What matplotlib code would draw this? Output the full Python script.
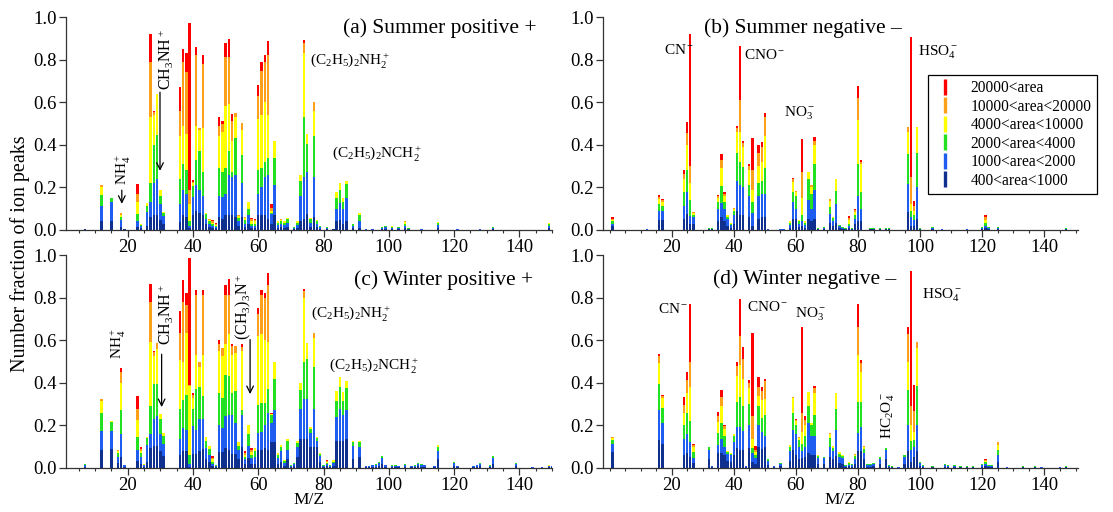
import numpy as np
import matplotlib
matplotlib.use("Agg")
import matplotlib.pyplot as plt
from matplotlib.ticker import MultipleLocator, FormatStrFormatter
from matplotlib.lines import Line2D

plt.rcParams['font.family'] = ['Liberation Serif', 'DejaVu Serif']
plt.rcParams['mathtext.fontset'] = 'custom'
plt.rcParams['mathtext.rm'] = 'Liberation Serif'
plt.rcParams['mathtext.it'] = 'Liberation Serif:italic'
plt.rcParams['mathtext.bf'] = 'Liberation Serif:bold'

# area classes, bottom to top
class_labels = ['400<area<1000', '1000<area<2000', '2000<area<4000',
                '4000<area<10000', '10000<area<20000', '20000<area']
class_colors = ['#10308f', '#1f5cf0', '#22e022', '#ffff00', '#ffa01a', '#ff0000']

# ---- (a) Summer positive: m/z and cumulative tops of the class stack ----
a_mz = [7, 12, 15, 18, 19, 23, 24, 26, 27, 28, 29, 30, 31, 36, 37, 38, 39, 40, 41, 42,
        43, 44, 45, 46, 47, 48, 49, 50, 51, 52, 53, 54, 55, 56, 57, 58, 59, 60, 61, 62,
        63, 64, 65, 66, 67, 68, 69, 71, 72, 73, 74, 75, 76, 77, 78, 79, 81, 83, 84, 85,
        86, 87, 89, 91, 93, 95, 98, 99, 101, 103, 105, 106, 110, 115, 121, 128, 132, 149]
a_cum = [
    (0.003, 0.004, 0.005, 0.005, 0.006), (0.044, 0.115, 0.166, 0.20, 0.21),
    (0.044, 0.133, 0.15), (0.016, 0.047, 0.063, 0.072, 0.078), (0.004, 0.006),
    (0.013, 0.044, 0.075, 0.13, 0.17, 0.217), (0.01, 0.02, 0.025, 0.028, 0.03),
    (0.02, 0.084, 0.115, 0.126), (0.06, 0.13, 0.22, 0.53, 0.79, 0.92),
    (0.07, 0.22, 0.40, 0.54, 0.555, 0.56), (0.07, 0.24, 0.445, 0.64),
    (0.045, 0.12, 0.16, 0.19), (0.03, 0.068, 0.08, 0.084),
    (0.037, 0.12, 0.24, 0.44, 0.56, 0.67), (0.07, 0.19, 0.31, 0.49, 0.79, 0.85),
    (0.06, 0.17, 0.28, 0.45, 0.74, 0.83), (0.01, 0.02, 0.04, 0.12, 0.19, 0.97),
    (0.07, 0.155, 0.205, 0.22, 0.225, 0.233), (0.09, 0.21, 0.33, 0.49, 0.82, 0.86),
    (0.08, 0.19, 0.37, 0.47, 0.48), (0.07, 0.16, 0.27, 0.48, 0.78, 0.82),
    (0.03, 0.05, 0.075, 0.08), (0.015, 0.03, 0.04, 0.047, 0.05),
    (0.01, 0.02, 0.028, 0.035, 0.04, 0.045), (0.008, 0.015, 0.02, 0.025, 0.03, 0.035),
    (0.06, 0.16, 0.29, 0.44, 0.49, 0.53), (0.05, 0.155, 0.27, 0.46, 0.50, 0.51),
    (0.07, 0.17, 0.29, 0.58, 0.81, 0.88), (0.07, 0.26, 0.37, 0.59, 0.81, 0.895),
    (0.07, 0.25, 0.27, 0.42, 0.51, 0.545), (0.06, 0.26, 0.43, 0.53, 0.55),
    (0.02, 0.04, 0.055, 0.065, 0.07), (0.06, 0.22, 0.35, 0.47, 0.50),
    (0.015, 0.03, 0.045, 0.055, 0.06), (0.03, 0.07, 0.10, 0.13),
    (0.01, 0.02, 0.03, 0.04, 0.05, 0.055), (0.01, 0.02, 0.03, 0.04, 0.045, 0.05),
    (0.07, 0.17, 0.28, 0.52, 0.63, 0.68), (0.07, 0.20, 0.29, 0.54, 0.745, 0.79),
    (0.07, 0.25, 0.32, 0.60, 0.79, 0.82), (0.05, 0.26, 0.34, 0.54, 0.82, 0.887),
    (0.03, 0.075, 0.08, 0.09, 0.105, 0.12), (0.07, 0.21, 0.34, 0.42),
    (0.01, 0.025, 0.035, 0.04, 0.044), (0.015, 0.03, 0.04, 0.048, 0.05),
    (0.01, 0.025, 0.035, 0.04), (0.015, 0.035, 0.05, 0.057), (0.004, 0.008, 0.012),
    (0.01, 0.025, 0.035, 0.04), (0.04, 0.16, 0.23, 0.256),
    (0.05, 0.25, 0.53, 0.83, 0.88, 0.89), (0.075, 0.27, 0.405, 0.45),
    (0.015, 0.035, 0.05, 0.057), (0.06, 0.25, 0.44, 0.56, 0.60),
    (0.015, 0.03, 0.042, 0.047), (0.006, 0.012, 0.018, 0.02), (0.004, 0.008, 0.012),
    (0.003, 0.005), (0.04, 0.10, 0.15, 0.177), (0.045, 0.125, 0.19, 0.22),
    (0.03, 0.10, 0.13, 0.15), (0.04, 0.15, 0.215, 0.232), (0.008, 0.02, 0.028, 0.03),
    (0.01, 0.04, 0.07, 0.078), (0.002, 0.004, 0.005), (0.002, 0.004, 0.005),
    (0.004, 0.01, 0.015), (0.005, 0.012, 0.018, 0.02), (0.004, 0.01, 0.015, 0.018),
    (0.003, 0.008, 0.012), (0.01, 0.02, 0.03, 0.038, 0.044), (0.003, 0.007, 0.01),
    (0.002, 0.004, 0.005), (0.01, 0.025, 0.033, 0.036), (0.002, 0.004, 0.005),
    (0.002, 0.004, 0.005), (0.004, 0.01, 0.015), (0.008, 0.02, 0.03, 0.035)]

# ---- (b) Summer negative ----
b_mz = [1, 12, 16, 17, 24, 25, 26, 27, 32, 33, 35, 36, 37, 38, 39, 40, 41, 42, 43, 45,
        46, 48, 49, 50, 51, 55, 56, 58, 59, 60, 61, 62, 63, 64, 65, 66, 67, 69, 71, 72,
        73, 74, 75, 76, 77, 78, 79, 80, 81, 84, 85, 87, 89, 90, 96, 97, 98, 99, 100, 104,
        107, 115, 120, 121, 122, 125, 147]
b_cum = [
    (0.02, 0.03, 0.04, 0.045, 0.05, 0.06), (0.002, 0.003),
    (0.045, 0.09, 0.12, 0.145, 0.155, 0.166), (0.045, 0.09, 0.115, 0.13, 0.14, 0.146),
    (0.05, 0.115, 0.18, 0.24, 0.265, 0.28), (0.075, 0.177, 0.28, 0.40, 0.455, 0.505),
    (0.03, 0.065, 0.14, 0.22, 0.30, 0.92), (0.03, 0.06, 0.07, 0.08, 0.085),
    (0.003, 0.006, 0.008), (0.003, 0.006, 0.01), (0.04, 0.1, 0.13, 0.15, 0.16, 0.166),
    (0.06, 0.125, 0.205, 0.29, 0.33, 0.355), (0.04, 0.1, 0.13, 0.16, 0.17, 0.177),
    (0.02, 0.05, 0.06, 0.07, 0.072), (0.01, 0.025, 0.03, 0.035),
    (0.03, 0.07, 0.09, 0.1, 0.105), (0.09, 0.23, 0.36, 0.46, 0.48, 0.49),
    (0.07, 0.21, 0.32, 0.46, 0.61, 0.865), (0.07, 0.2, 0.295, 0.39, 0.41, 0.42),
    (0.06, 0.16, 0.21, 0.28, 0.30, 0.31), (0.02, 0.08, 0.13, 0.19, 0.28, 0.43),
    (0.05, 0.16, 0.22, 0.30, 0.36, 0.40), (0.06, 0.17, 0.23, 0.32, 0.39, 0.415),
    (0.06, 0.17, 0.29, 0.44, 0.53, 0.55), (0.002, 0.004, 0.005), (0.002, 0.004),
    (0.002, 0.004), (0.01, 0.025, 0.035, 0.04), (0.05, 0.13, 0.18, 0.225, 0.24, 0.245),
    (0.05, 0.1, 0.16, 0.18, 0.185), (0.015, 0.03, 0.04, 0.045),
    (0.02, 0.04, 0.07, 0.15, 0.27, 0.425), (0.01, 0.025, 0.035, 0.04),
    (0.05, 0.14, 0.24, 0.27), (0.04, 0.1, 0.17, 0.20, 0.21),
    (0.05, 0.19, 0.31, 0.40, 0.42, 0.435), (0.003, 0.007, 0.01), (0.004, 0.009, 0.012),
    (0.035, 0.075, 0.11, 0.135, 0.146), (0.02, 0.04, 0.055, 0.063),
    (0.035, 0.12, 0.185, 0.24), (0.008, 0.018, 0.025), (0.005, 0.011, 0.015),
    (0.003, 0.007, 0.01), (0.01, 0.02, 0.03, 0.045, 0.055, 0.068), (0.003, 0.007, 0.01),
    (0.03, 0.05, 0.07, 0.085, 0.095, 0.1), (0.044, 0.16, 0.31, 0.515, 0.62, 0.675),
    (0.04, 0.1, 0.18, 0.31, 0.32, 0.33), (0.003, 0.007, 0.01), (0.003, 0.007, 0.01),
    (0.003, 0.007, 0.01), (0.003, 0.007, 0.01), (0.003, 0.006, 0.008),
    (0.083, 0.217, 0.357, 0.46, 0.485), (0.02, 0.06, 0.09, 0.12, 0.25, 0.905),
    (0.02, 0.045, 0.07, 0.09, 0.115, 0.135), (0.05, 0.2, 0.36, 0.485),
    (0.003, 0.007, 0.01), (0.005, 0.011, 0.015), (0.002, 0.004, 0.005), (0.002, 0.004),
    (0.004, 0.009, 0.012), (0.01, 0.02, 0.035, 0.045, 0.06, 0.072),
    (0.004, 0.009, 0.012), (0.005, 0.011, 0.015), (0.003, 0.006, 0.008)]

# ---- (c) Winter positive ----
c_mz = [7, 12, 15, 17, 18, 19, 23, 24, 25, 26, 27, 28, 29, 30, 31, 36, 37, 38, 39, 40,
        41, 42, 43, 44, 45, 46, 47, 48, 49, 50, 51, 52, 53, 54, 55, 56, 57, 58, 59, 60,
        61, 62, 63, 64, 65, 66, 67, 68, 69, 70, 71, 72, 73, 74, 75, 76, 77, 78, 79, 80,
        81, 82, 83, 84, 85, 86, 87, 89, 91, 93, 94, 95, 96, 97, 98, 99, 101, 102, 103,
        105, 107, 108, 109, 110, 111, 114, 115, 120, 121, 126, 127, 128, 131, 132, 139,
        144, 147, 149, 150]
c_cum = [
    (0.005, 0.012, 0.017, 0.02), (0.085, 0.175, 0.26, 0.315, 0.325),
    (0.09, 0.175, 0.215, 0.223), (0.025, 0.05, 0.07, 0.08, 0.086),
    (0.05, 0.16, 0.27, 0.40, 0.45, 0.47), (0.005, 0.012, 0.016),
    (0.031, 0.086, 0.144, 0.226, 0.276, 0.337), (0.02, 0.05, 0.07, 0.08, 0.09, 0.097),
    (0.006, 0.012, 0.016, 0.018), (0.03, 0.11, 0.143, 0.147),
    (0.094, 0.16, 0.29, 0.59, 0.78, 0.863), (0.104, 0.228, 0.393, 0.526, 0.545, 0.55),
    (0.104, 0.245, 0.393, 0.559, 0.587), (0.08, 0.16, 0.23, 0.253),
    (0.055, 0.115, 0.15, 0.162), (0.063, 0.137, 0.278, 0.509, 0.633, 0.737),
    (0.08, 0.19, 0.32, 0.50, 0.78, 0.881), (0.08, 0.179, 0.344, 0.633, 0.765, 0.82),
    (0.005, 0.021, 0.063, 0.385, 0.39, 0.988), (0.065, 0.195, 0.278, 0.33, 0.342, 0.352),
    (0.065, 0.18, 0.37, 0.53, 0.81, 0.836), (0.08, 0.23, 0.38, 0.475, 0.496),
    (0.09, 0.23, 0.34, 0.53, 0.81, 0.836), (0.04, 0.095, 0.125, 0.145),
    (0.03, 0.063, 0.09, 0.104), (0.01, 0.02, 0.03, 0.04, 0.048, 0.055),
    (0.005, 0.01, 0.013, 0.015), (0.075, 0.2, 0.35, 0.55, 0.58, 0.60),
    (0.075, 0.19, 0.33, 0.525, 0.562), (0.095, 0.245, 0.435, 0.58, 0.81, 0.86),
    (0.085, 0.25, 0.43, 0.63, 0.81, 0.889), (0.065, 0.25, 0.35, 0.53, 0.575, 0.583),
    (0.065, 0.21, 0.36, 0.54, 0.575), (0.04, 0.085, 0.105, 0.12),
    (0.1, 0.25, 0.27, 0.55, 0.57, 0.58), (0.02, 0.04, 0.05, 0.06, 0.07, 0.08),
    (0.045, 0.105, 0.16, 0.203), (0.02, 0.045, 0.06, 0.075, 0.085, 0.095),
    (0.02, 0.05, 0.08, 0.095), (0.085, 0.165, 0.295, 0.62, 0.725, 0.749),
    (0.085, 0.17, 0.305, 0.63, 0.81, 0.835), (0.095, 0.2, 0.305, 0.60, 0.80, 0.823),
    (0.085, 0.26, 0.37, 0.59, 0.86, 0.914), (0.12, 0.21, 0.25, 0.252, 0.254, 0.256),
    (0.12, 0.27, 0.42, 0.5), (0.02, 0.045, 0.06, 0.07), (0.03, 0.08, 0.1, 0.11),
    (0.01, 0.025, 0.032, 0.036), (0.04, 0.085, 0.125, 0.135), (0.004, 0.009, 0.012),
    (0.008, 0.018, 0.025), (0.05, 0.1, 0.117, 0.127), (0.135, 0.275, 0.365, 0.397),
    (0.135, 0.325, 0.5, 0.80, 0.83, 0.84), (0.135, 0.325, 0.51, 0.587),
    (0.1, 0.165, 0.185, 0.193), (0.1, 0.275, 0.475, 0.61, 0.635),
    (0.1, 0.125, 0.14, 0.144), (0.03, 0.055, 0.065, 0.07), (0.005, 0.01, 0.015),
    (0.01, 0.02, 0.025, 0.03, 0.033, 0.036), (0.005, 0.01, 0.015),
    (0.01, 0.025, 0.03, 0.036), (0.125, 0.24, 0.315, 0.362), (0.125, 0.275, 0.38, 0.425),
    (0.125, 0.25, 0.315, 0.355), (0.135, 0.27, 0.375, 0.408), (0.04, 0.105, 0.12, 0.127),
    (0.05, 0.1, 0.12, 0.127), (0.004, 0.008, 0.01), (0.004, 0.008, 0.01),
    (0.005, 0.012, 0.015), (0.007, 0.015, 0.02), (0.01, 0.022, 0.03),
    (0.02, 0.045, 0.055, 0.058), (0.005, 0.012, 0.015), (0.004, 0.009, 0.012),
    (0.004, 0.009, 0.012), (0.004, 0.008, 0.01), (0.007, 0.015, 0.02),
    (0.004, 0.008, 0.01), (0.004, 0.009, 0.012), (0.008, 0.02, 0.025),
    (0.006, 0.014, 0.018), (0.005, 0.012, 0.015), (0.004, 0.008, 0.01),
    (0.04, 0.08, 0.1, 0.11), (0.01, 0.022, 0.028, 0.03), (0.004, 0.008, 0.01),
    (0.004, 0.008, 0.01), (0.005, 0.012, 0.015), (0.008, 0.02, 0.025),
    (0.004, 0.009, 0.012), (0.02, 0.045, 0.055, 0.058), (0.01, 0.02, 0.025),
    (0.002, 0.004, 0.005), (0.002, 0.004, 0.006), (0.004, 0.008, 0.01, 0.012),
    (0.004, 0.008, 0.01)]

# ---- (d) Winter negative ----
d_mz = [1, 16, 17, 24, 25, 26, 27, 32, 33, 35, 36, 37, 38, 39, 40, 41, 42, 43, 44, 45,
        46, 47, 48, 49, 50, 51, 53, 55, 58, 59, 60, 61, 62, 63, 64, 65, 66, 67, 69, 71,
        72, 73, 74, 75, 76, 77, 78, 79, 80, 81, 82, 83, 84, 85, 87, 89, 90, 91, 93, 95,
        96, 97, 98, 99, 100, 101, 104, 108, 109, 111, 113, 115, 117, 120, 121, 122, 123,
        125, 128, 133, 137, 139, 145, 147]
d_cum = [
    (0.075, 0.115, 0.13, 0.14, 0.145), (0.13, 0.27, 0.395, 0.495, 0.525, 0.535),
    (0.115, 0.21, 0.28, 0.33, 0.34, 0.345), (0.061, 0.136, 0.2, 0.26, 0.296, 0.334),
    (0.07, 0.16, 0.26, 0.35, 0.413, 0.453), (0.05, 0.12, 0.22, 0.38, 0.50, 0.772),
    (0.025, 0.045, 0.075, 0.1, 0.11, 0.115), (0.04, 0.085, 0.097, 0.1),
    (0.004, 0.008, 0.01), (0.07, 0.11, 0.164, 0.218, 0.243, 0.263),
    (0.07, 0.136, 0.21, 0.293, 0.334, 0.364), (0.06, 0.1, 0.15, 0.185, 0.195, 0.2),
    (0.035, 0.065, 0.075, 0.078), (0.03, 0.06, 0.068, 0.07), (0.06, 0.12, 0.15, 0.16),
    (0.094, 0.193, 0.309, 0.433, 0.478, 0.496), (0.086, 0.193, 0.334, 0.483, 0.62, 0.792),
    (0.086, 0.174, 0.293, 0.417, 0.511, 0.57), (0.004, 0.008, 0.01),
    (0.094, 0.2, 0.3, 0.375, 0.4, 0.412), (0.03, 0.07, 0.094, 0.136, 0.243, 0.635),
    (0.02, 0.045, 0.06, 0.075, 0.086, 0.102), (0.1, 0.2, 0.29, 0.34, 0.378, 0.425),
    (0.09, 0.17, 0.235, 0.317, 0.36, 0.38), (0.1, 0.152, 0.25, 0.326, 0.408, 0.42),
    (0.015, 0.035, 0.04), (0.004, 0.008, 0.01), (0.01, 0.02, 0.025),
    (0.035, 0.08, 0.1, 0.11), (0.085, 0.177, 0.26, 0.33, 0.334),
    (0.06, 0.16, 0.2, 0.22, 0.225, 0.23), (0.04, 0.1, 0.13, 0.14, 0.144),
    (0.045, 0.08, 0.115, 0.17, 0.26, 0.66), (0.05, 0.1, 0.15, 0.2, 0.225, 0.243),
    (0.07, 0.21, 0.29, 0.355), (0.06, 0.15, 0.2, 0.21),
    (0.06, 0.152, 0.251, 0.35, 0.375, 0.387), (0.02, 0.045, 0.055, 0.06),
    (0.02, 0.045, 0.053), (0.05, 0.1, 0.14, 0.16, 0.165), (0.04, 0.08, 0.095, 0.102),
    (0.055, 0.177, 0.276, 0.35), (0.025, 0.05, 0.065, 0.074), (0.02, 0.045, 0.055, 0.06),
    (0.005, 0.01, 0.015), (0.008, 0.016, 0.022, 0.026, 0.03), (0.006, 0.014, 0.02),
    (0.02, 0.04, 0.055, 0.062, 0.066), (0.081, 0.164, 0.309, 0.532, 0.66, 0.769),
    (0.078, 0.193, 0.31, 0.45, 0.494, 0.507), (0.04, 0.07, 0.09, 0.1, 0.102),
    (0.006, 0.014, 0.02), (0.006, 0.014, 0.02), (0.008, 0.018, 0.025),
    (0.02, 0.04, 0.05), (0.04, 0.085, 0.094), (0.005, 0.011, 0.015),
    (0.003, 0.007, 0.01), (0.002, 0.004, 0.005), (0.02, 0.05, 0.06),
    (0.078, 0.202, 0.367, 0.5, 0.631, 0.664), (0.03, 0.086, 0.127, 0.2, 0.293, 0.924),
    (0.05, 0.1, 0.13, 0.17, 0.268, 0.388), (0.078, 0.202, 0.383, 0.565, 0.593),
    (0.01, 0.022, 0.03), (0.005, 0.011, 0.015), (0.003, 0.007, 0.01),
    (0.006, 0.014, 0.02), (0.005, 0.011, 0.015), (0.004, 0.009, 0.012),
    (0.003, 0.006, 0.008), (0.003, 0.007, 0.01), (0.003, 0.006, 0.008),
    (0.006, 0.014, 0.02), (0.01, 0.02, 0.028, 0.033, 0.037, 0.04),
    (0.005, 0.011, 0.015), (0.005, 0.011, 0.015), (0.03, 0.06, 0.085, 0.11, 0.12, 0.124),
    (0.002, 0.004, 0.005), (0.003, 0.006, 0.008), (0.003, 0.007, 0.01),
    (0.002, 0.004, 0.005), (0.002, 0.004, 0.005), (0.003, 0.006, 0.008)]

panel_titles = ['(a) Summer positive +', '(b) Summer negative \u2013',
                '(c) Winter positive +', '(d) Winter negative \u2013']

W, H = 1113, 512
fig = plt.figure(figsize=(W / 100, H / 100), dpi=100)


def px_axes(x0, x1, ytop, ybot):
    return fig.add_axes([x0 / W, 1 - ybot / H, (x1 - x0) / W, (ybot - ytop) / H])


ax_a = px_axes(66, 552, 17, 230)
ax_b = px_axes(603, 1078, 17, 230)
ax_c = px_axes(66, 552, 255, 468)
ax_d = px_axes(603, 1078, 255, 468)


def draw(ax, mz, cum, xlim):
    lv = np.array([list(r) + [r[-1]] * (6 - len(r)) for r in cum])
    bot = np.hstack([np.zeros((len(lv), 1)), lv[:, :-1]])
    for k in range(6):
        ax.bar(mz, lv[:, k] - bot[:, k], bottom=bot[:, k], width=0.75,
               color=class_colors[k], linewidth=0)
    ax.set_xlim(*xlim)
    ax.set_ylim(0, 1.0)
    for s in ('top', 'right'):
        ax.spines[s].set_visible(False)
    for s in ('left', 'bottom'):
        ax.spines[s].set_linewidth(0.9)
        ax.spines[s].set_color('#333333')
    ax.set_xticks(range(20, 141, 20))
    ax.xaxis.set_minor_locator(MultipleLocator(5))
    ax.set_yticks(np.arange(0, 1.01, 0.2))
    ax.yaxis.set_major_formatter(FormatStrFormatter('%.1f'))
    ax.tick_params(axis='both', which='major', direction='out', length=5, width=0.9,
                   labelsize=13.5, color='#333333', pad=1.5)
    ax.tick_params(axis='x', which='minor', direction='out', length=2.5, width=0.8,
                   color='#333333')


pos_lim = (1.1, 150.0)
neg_lim = (-2.1, 150.8)
draw(ax_a, a_mz, a_cum, pos_lim)
draw(ax_b, b_mz, b_cum, neg_lim)
draw(ax_c, c_mz, c_cum, pos_lim)
draw(ax_d, d_mz, d_cum, neg_lim)

tfs = 15.5
ax_a.text(0.969, 0.948, panel_titles[0], transform=ax_a.transAxes, ha='right', va='center', fontsize=tfs)
ax_b.text(0.213, 0.948, panel_titles[1], transform=ax_b.transAxes, ha='left', va='center', fontsize=tfs)
ax_c.text(0.961, 0.880, panel_titles[2], transform=ax_c.transAxes, ha='right', va='center', fontsize=tfs)
ax_d.text(0.232, 0.889, panel_titles[3], transform=ax_d.transAxes, ha='left', va='center', fontsize=tfs)

afs = 11
arrow = dict(arrowstyle='->', lw=0.9, color='black', mutation_scale=12)

# (a) labels
ax_a.text(75.9, 0.795, r'(C$_2$H$_5$)$_2$NH$_2^+$', fontsize=afs, ha='left', va='center')
ax_a.text(82.5, 0.36, r'(C$_2$H$_5$)$_2$NCH$_2^+$', fontsize=afs, ha='left', va='center')
ax_a.text(31.6, 0.80, r'CH$_3$NH$^+$', rotation=90, fontsize=11.5, ha='center', va='center')
ax_a.annotate('', xy=(29.9, 0.265), xytext=(29.9, 0.66), arrowprops=arrow)
ax_a.text(18.6, 0.285, r'NH$_4^+$', rotation=90, fontsize=afs, ha='center', va='center')
ax_a.annotate('', xy=(18.2, 0.11), xytext=(18.2, 0.20), arrowprops=arrow)

# (b) labels
ax_b.text(17.5, 0.845, r'CN$^-$', fontsize=afs, ha='left', va='center')
ax_b.text(43.3, 0.82, r'CNO$^-$', fontsize=afs, ha='left', va='center')
ax_b.text(56.2, 0.55, r'NO$_3^-$', fontsize=afs, ha='left', va='center')
ax_b.text(99.3, 0.835, r'HSO$_4^-$', fontsize=afs, ha='left', va='center')

# (c) labels
ax_c.text(76.1, 0.725, r'(C$_2$H$_5$)$_2$NH$_2^+$', fontsize=afs, ha='left', va='center')
ax_c.text(81.7, 0.48, r'(C$_2$H$_5$)$_2$NCH$_2^+$', fontsize=afs, ha='left', va='center')
ax_c.text(31.5, 0.72, r'CH$_3$NH$^+$', rotation=90, fontsize=11.5, ha='center', va='center')
ax_c.annotate('', xy=(30.4, 0.273), xytext=(30.4, 0.547), arrowprops=arrow)
ax_c.text(17.2, 0.583, r'NH$_4^+$', rotation=90, fontsize=afs, ha='center', va='center')
ax_c.text(55.4, 0.755, r'(CH$_3$)$_3$N$^+$', rotation=90, fontsize=11.5, ha='center', va='center')
ax_c.annotate('', xy=(57.5, 0.334), xytext=(57.5, 0.616), arrowprops=arrow)

# (d) labels
ax_d.text(15.6, 0.747, r'CN$^-$', fontsize=afs, ha='left', va='center')
ax_d.text(44.2, 0.757, r'CNO$^-$', fontsize=afs, ha='left', va='center')
ax_d.text(59.7, 0.72, r'NO$_3^-$', fontsize=afs, ha='left', va='center')
ax_d.text(100.5, 0.81, r'HSO$_4^-$', fontsize=afs, ha='left', va='center')
ax_d.text(89.7, 0.247, r'HC$_2$O$_4^-$', rotation=90, fontsize=afs, ha='center', va='center')

# legend
handles = [Line2D([], [], marker='|', linestyle='none', markersize=11, mew=2.4,
                  color=class_colors[k]) for k in range(5, -1, -1)]
labels = [class_labels[k] for k in range(5, -1, -1)]
leg = fig.legend(handles, labels, loc='upper left', bbox_to_anchor=(928 / W, 1 - 75 / H),
                 bbox_transform=fig.transFigure, fontsize=11.2, frameon=True, fancybox=False,
                 edgecolor='black', framealpha=1, borderaxespad=0, labelspacing=0.16,
                 handlelength=1.5, handletextpad=0.9, borderpad=0.35)
leg.get_frame().set_linewidth(0.9)

fig.text(20 / W, 1 - 254 / H, 'Number fraction of ion peaks', rotation=90,
         ha='center', va='center', fontsize=14.5)
fig.text(309 / W, 1 - 500 / H, 'M/Z', ha='center', va='center', fontsize=12.5)
fig.text(840 / W, 1 - 500 / H, 'M/Z', ha='center', va='center', fontsize=12.5)

fig.savefig('out.png', dpi=100)
